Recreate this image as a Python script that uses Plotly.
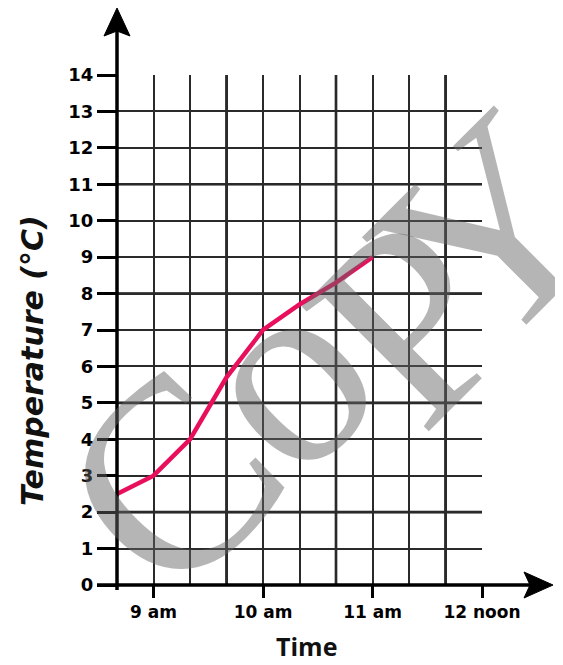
import plotly.graph_objects as go

# ---- data ----
times = ["8:40", "9:00", "9:20", "9:40", "10:00", "10:20", "10:40", "11:00"]
temps = [2.5, 3.0, 4.0, 5.7, 7.0, 7.7, 8.3, 9.0]

tick_times = ["9:00", "10:00", "11:00", "12:00"]
tick_labels = ["9 am", "10 am", "11 am", "12 noon"]

y_ticks = list(range(0, 15))

watermark_letters = ["C", "o", "P", "Y"]


def to_min(t):
    h, m = t.split(":")
    return int(h) * 60 + int(m)


xs = [to_min(t) for t in times]
xtv = [to_min(t) for t in tick_times]
x_start = to_min("8:40")
x_end = to_min("12:00")

# page geometry (the page body has an 8px margin)
OFF = 8
W, H = 563 - OFF, 665 - OFF
L, R, T, B = 117, 482, 75, 585          # plot area in page pixels
pw, ph = R - L, B - T


def px(xp):
    return (xp - L) / pw


def py(yp):
    return (B - yp) / ph


fig = go.Figure()
fig.add_trace(go.Scatter(
    x=xs, y=temps, mode="lines",
    line=dict(color="#e8105c", width=4.5),
    hoverinfo="skip", showlegend=False,
))

grid_col = "#2a2a2a"
shapes = []
for k in (3, 6, 9):
    xv = x_start + 20 * k
    shapes.append(dict(type="line", xref="x", yref="y", x0=xv, x1=xv, y0=0, y1=14,
                       line=dict(color="#111", width=2.6), layer="below"))
for yv in (2, 5, 8, 11):
    shapes.append(dict(type="line", xref="x", yref="y", x0=x_start, x1=x_end, y0=yv, y1=yv,
                       line=dict(color="#111", width=2.6), layer="below"))

# y axis with arrow
shapes.append(dict(type="line", xref="paper", yref="paper", x0=0, x1=0,
                   y0=py(590), y1=py(30), line=dict(color="black", width=3.5)))
shapes.append(dict(type="path", xref="paper", yref="paper",
                   path=f"M {px(117)} {py(8)} L {px(104)} {py(36)} L {px(117)} {py(31)} L {px(130)} {py(36)} Z",
                   fillcolor="black", line=dict(color="black", width=1)))
# x axis with arrow
shapes.append(dict(type="line", xref="paper", yref="paper", x0=px(97), x1=px(530),
                   y0=0, y1=0, line=dict(color="black", width=3.5)))
shapes.append(dict(type="path", xref="paper", yref="paper",
                   path=f"M {px(553)} {py(585)} L {px(524)} {py(572)} L {px(530)} {py(585)} L {px(524)} {py(598)} Z",
                   fillcolor="black", line=dict(color="black", width=1)))

annotations = [
    dict(text="Time", xref="paper", yref="paper", x=px(306), y=py(646),
         showarrow=False, xanchor="center", yanchor="middle",
         font=dict(family="Open Sans", size=25, color="#111", weight="bold")),
    dict(text="Temperature (°C)", xref="paper", yref="paper", x=px(32), y=py(361),
         showarrow=False, xanchor="center", yanchor="middle", textangle=-90,
         font=dict(family="DejaVu Sans", size=30, color="#111", weight="bold", style="italic")),
]

# watermark letters, placed individually (page px anchors)
wm_pos = [(170, 480), (280, 374), (410, 320), (490, 231)]
for ch, (cx, cy) in zip(watermark_letters, wm_pos):
    annotations.append(dict(
        text=ch, xref="paper", yref="paper", x=px(cx), y=py(cy),
        showarrow=False, xanchor="center", yanchor="middle", textangle=-45,
        font=dict(family="Liberation Serif", size=272, color="rgba(100,100,100,0.48)"),
    ))

fig.update_layout(
    width=W, height=H,
    margin=dict(l=L - OFF, r=W - (R - OFF), t=T - OFF, b=H - (B - OFF)),
    paper_bgcolor="white", plot_bgcolor="white",
    shapes=shapes, annotations=annotations,
    xaxis=dict(
        range=[x_start, x_end], tickvals=xtv, ticktext=tick_labels,
        ticks="outside", ticklen=12, tickwidth=3, tickcolor="black",
        showline=False, zeroline=False,
        showgrid=True, gridcolor=grid_col, gridwidth=1.5,
        minor=dict(tick0=x_start, dtick=20, showgrid=True, gridcolor=grid_col, gridwidth=1.5, ticks=""),
        tickfont=dict(family="DejaVu Sans", size=17, color="black", weight="bold"),
        automargin=False, fixedrange=True,
    ),
    yaxis=dict(
        range=[0, 14], tickvals=y_ticks,
        ticks="outside", ticklen=19, tickwidth=3, tickcolor="black",
        showline=False, zeroline=False,
        showgrid=True, gridcolor=grid_col, gridwidth=1.5,
        tickfont=dict(family="DejaVu Sans", size=18, color="black", weight="bold"),
        automargin=False, fixedrange=True,
    ),
)

fig.write_html("out.html")
